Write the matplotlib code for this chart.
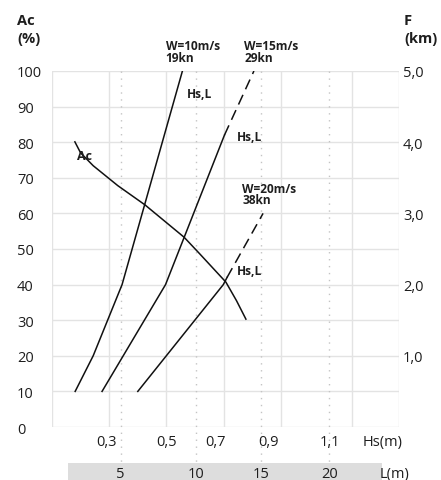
import matplotlib as mlp
mlp.use("Agg")
import matplotlib.pyplot as plt

plt.rcParams['font.family'] = ['Open Sans', 'DejaVu Sans']

# Hs axis: nominal grid values and where the printed labels sit
hs_grid = [0.3, 0.5, 0.7, 0.9, 1.15]
hs_labels = ["0,3", "0,5", "0,7", "0,9", "1,1"]
hs_label_pos = [0.292, 0.502, 0.673, 0.857, 1.072]

# L scale printed under the chart (position on Hs axis)
l_labels = ["5", "10", "15", "20"]
l_pos = [0.340, 0.602, 0.830, 1.070]

ac_ticks = list(range(0, 101, 10))
f_ticks = [1, 2, 3, 4, 5]
f_labels = ["1,0", "2,0", "3,0", "4,0", "5,0"]

# wind curves (Hs, Ac)
w10_hs = [0.181, 0.244, 0.345, 0.556]
w10_ac = [10, 20, 40, 100]

w15_hs = [0.275, 0.497, 0.703]
w15_ac = [10, 40, 82]
w15_hs_dash = [0.703, 0.806]
w15_ac_dash = [82, 100]

w20_hs = [0.400, 0.699, 0.712]
w20_ac = [10, 40, 42]
w20_hs_dash = [0.712, 0.838]
w20_ac_dash = [42, 60]

ac_hs = [0.180, 0.200, 0.244, 0.330, 0.425, 0.443, 0.562, 0.617, 0.708, 0.745, 0.778]
ac_ac = [80.1, 77.0, 73.4, 67.8, 62.4, 61.2, 53.3, 48.6, 40.7, 35.5, 30.3]

fig = plt.figure(figsize=(4.41, 4.81), dpi=100)
ax = fig.add_axes([52/441, 1-428/481, 347/441, 356/481])
ax.set_xlim(0.1, 0.1+347/286)
ax.set_ylim(0, 100)

grid_c = "#e3e3e3"
for v in ac_ticks:
    ax.axhline(v, color=grid_c, lw=1.0, zorder=1)
for v in hs_grid:
    ax.axvline(v, color=grid_c, lw=1.0, zorder=1)
ax.axvline(0.1, color=grid_c, lw=1.0, zorder=1)
ax.axvline(0.1+347/286, color=grid_c, lw=1.0, zorder=1)
for v in l_pos:
    ax.plot([v, v], [100, -10], color="#c4c4c4", lw=1.0, ls=(0, (1, 4)), clip_on=False, zorder=1)

for s in ax.spines.values():
    s.set_visible(False)

# grey band for the L scale
ax.fill_between([0.156, 1.255], -10, -16, color="#dddddd", clip_on=False, zorder=0, lw=0)

lc = "#111111"
ax.plot(w10_hs, w10_ac, color=lc, lw=1.1, zorder=3)
ax.plot(w15_hs, w15_ac, color=lc, lw=1.1, zorder=3)
ax.plot(w15_hs_dash, w15_ac_dash, color=lc, lw=1.1, ls=(0, (7, 4)), zorder=3)
ax.plot(w20_hs, w20_ac, color=lc, lw=1.1, zorder=3)
ax.plot(w20_hs_dash, w20_ac_dash, color=lc, lw=1.1, ls=(0, (7, 4)), zorder=3)
ax.plot(ac_hs, ac_ac, color=lc, lw=1.1, zorder=3)

tc = "#1e1e1e"
ax.set_yticks(ac_ticks)
ax.set_yticklabels([str(v) for v in ac_ticks], fontsize=10.5, color=tc)
for t in ax.get_yticklabels():
    t.set_horizontalalignment("left")
ax.tick_params(axis="y", length=0, pad=25.2)

ax.set_xticks([])
for lab, p in zip(hs_labels, hs_label_pos):
    ax.text(p, -4.0, lab, ha="center", va="center", fontsize=10.5, color=tc, clip_on=False)
ax.text(1.257, -4.0, "Hs(m)", ha="center", va="center", fontsize=10.5, color=tc, clip_on=False)

for lab, p in zip(l_labels, l_pos):
    ax.text(p, -13.2, lab, ha="center", va="center", fontsize=10.5, color=tc, clip_on=False)
ax.text(1.299, -13.2, "L(m)", ha="center", va="center", fontsize=10.5, color=tc, clip_on=False)

ax2 = ax.twinx()
ax2.set_ylim(0, 5)
ax2.set_yticks(f_ticks)
ax2.set_yticklabels(f_labels, fontsize=10.5, color=tc)
ax2.tick_params(axis="y", length=0, pad=2.9)
for s in ax2.spines.values():
    s.set_visible(False)

# headers
hkw = dict(fontsize=10.5, fontweight="bold", ha="left", va="center", color=tc)
fig.text(17/441, 1-21/481, "Ac", **hkw)
fig.text(17/441, 1-39/481, "(%)", **hkw)
fig.text(404/441, 1-21/481, "F", **hkw)
fig.text(404/441, 1-39/481, "(km)", **hkw)

# curve annotations
kw = dict(fontsize=8.6, fontweight="bold", ha="left", va="center", linespacing=0.85, zorder=4, color=tc)
ax.text(0.497, 105.5, "W=10m/s\n19kn", **kw)
ax.text(0.772, 105.5, "W=15m/s\n29kn", **kw)
ax.text(0.766, 65.4, "W=20m/s\n38kn", **kw)
ax.text(0.573, 93.8, "Hs,L", **kw)
ax.text(0.747, 81.7, "Hs,L", **kw)
ax.text(0.748, 43.9, "Hs,L", **kw)
ax.text(0.188, 76.2, "Ac", fontsize=9, fontweight="bold", ha="left", va="center", zorder=4, color=tc)

plt.savefig("out.png", dpi=100)
